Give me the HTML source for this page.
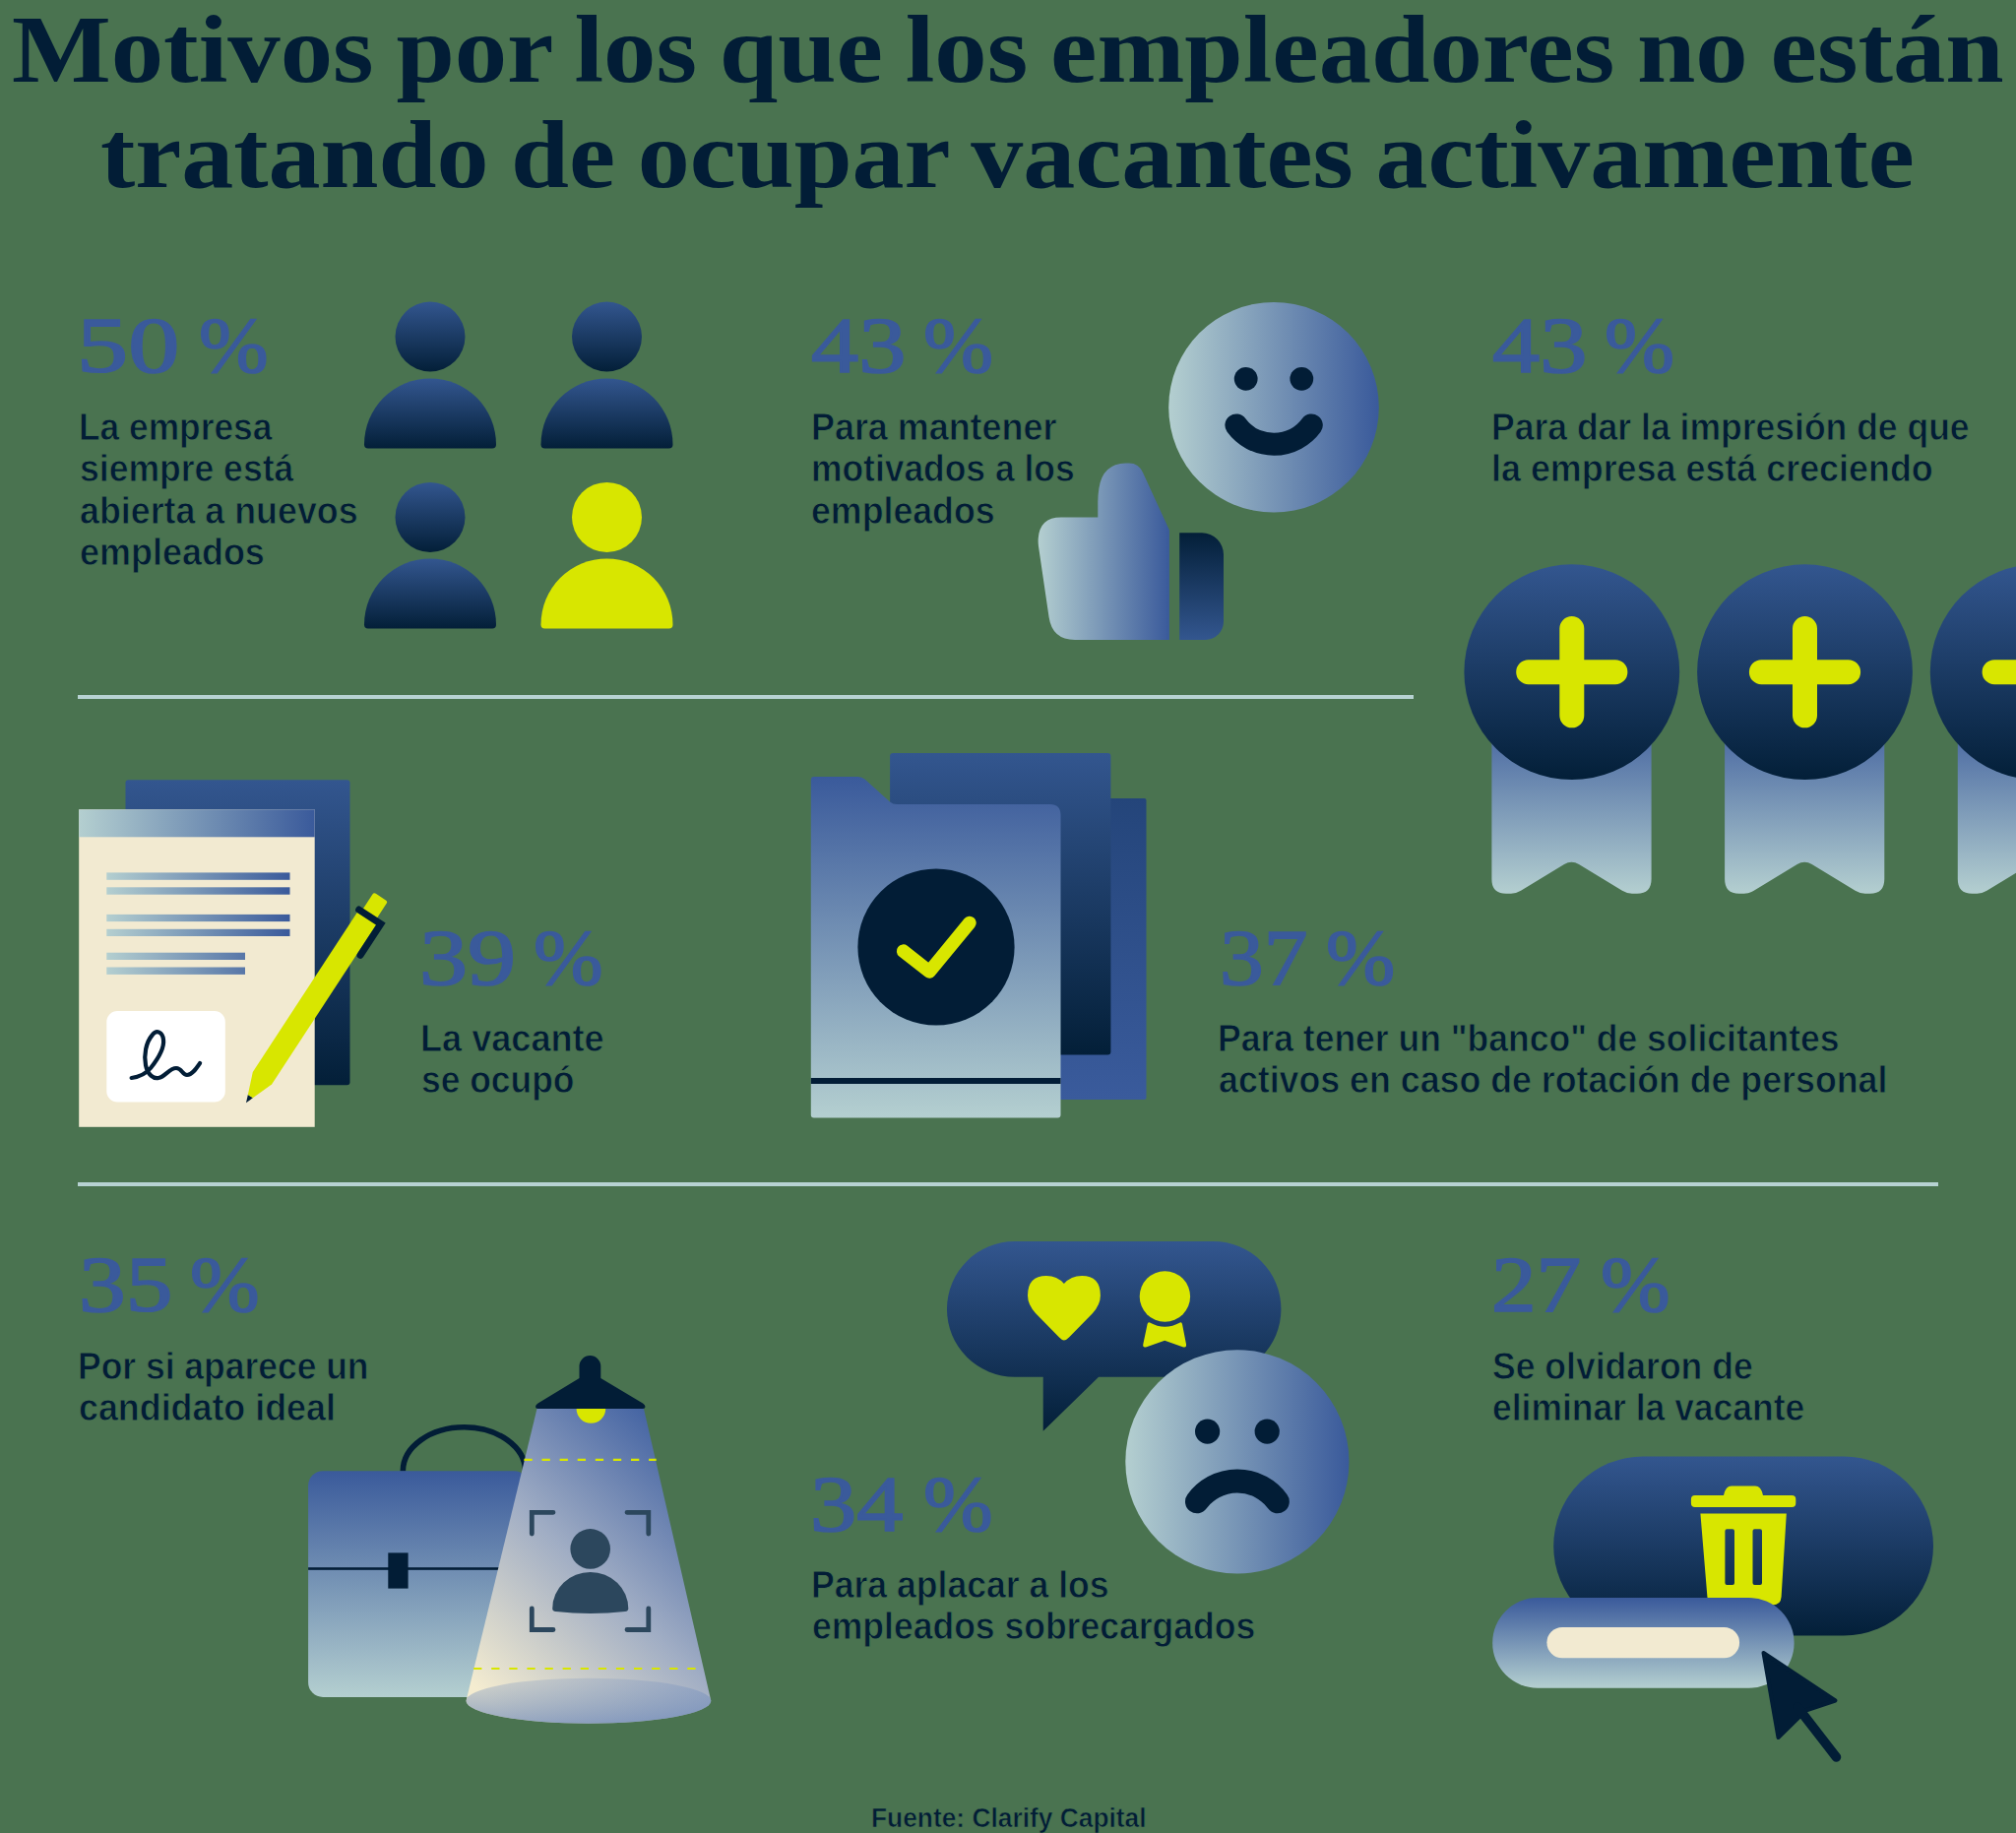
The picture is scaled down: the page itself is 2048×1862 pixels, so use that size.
<!DOCTYPE html>
<html lang="es">
<head>
<meta charset="utf-8">
<title>Motivos por los que los empleadores no están tratando de ocupar vacantes activamente</title>
<style>
html,body{margin:0;padding:0;}
body{width:2048px;height:1862px;background:#4a7350;overflow:hidden;position:relative;font-family:"Liberation Sans",sans-serif;}
#art{position:absolute;left:0;top:0;width:2048px;height:1862px;}
.t{position:absolute;white-space:nowrap;margin:0;padding:0;transform-origin:0 0;}
.title{font-family:"Liberation Serif",serif;font-weight:bold;color:#021d36;word-spacing:-3.5px;}
.num{font-family:"Liberation Serif",serif;font-weight:normal;color:#3a5a9b;-webkit-text-stroke:1.7px #3a5a9b;}
.body{font-family:"Liberation Sans",sans-serif;font-weight:bold;color:#021d36;-webkit-text-stroke:0.85px #4a7350;}
.src{font-family:"Liberation Sans",sans-serif;font-weight:bold;color:#021d36;-webkit-text-stroke:0.65px #4a7350;}
.rule{position:absolute;height:4px;background:#b7d2d2;}
</style>
</head>
<body>
<svg id="art" width="2048" height="1862" viewBox="0 0 2048 1862">
<defs>
  <linearGradient id="gNavy" x1="0" y1="0" x2="0" y2="1">
    <stop offset="0" stop-color="#33568f"/><stop offset="1" stop-color="#031f38"/>
  </linearGradient>
  <linearGradient id="gNavyR" x1="0" y1="0" x2="0" y2="1">
    <stop offset="0" stop-color="#031f38"/><stop offset="1" stop-color="#33568f"/>
  </linearGradient>
  <linearGradient id="gLightV" x1="0" y1="0" x2="0" y2="1">
    <stop offset="0" stop-color="#3a5a9b"/><stop offset="1" stop-color="#b4cfd0"/>
  </linearGradient>
  <linearGradient id="gLightH" x1="0" y1="0" x2="1" y2="0">
    <stop offset="0" stop-color="#b4cfd0"/><stop offset="1" stop-color="#3a5a9b"/>
  </linearGradient>
  <linearGradient id="gBack" x1="0" y1="0" x2="0" y2="1">
    <stop offset="0" stop-color="#24457a"/><stop offset="1" stop-color="#3a5b9c"/>
  </linearGradient>
  <linearGradient id="gCone" gradientUnits="userSpaceOnUse" x1="487" y1="1718" x2="712" y2="1478">
    <stop offset="0" stop-color="#f4ecd0"/><stop offset="0.5" stop-color="#a0adc4"/><stop offset="1" stop-color="#4262a2"/>
  </linearGradient>
  <linearGradient id="gPool" x1="0" y1="0" x2="0" y2="1">
    <stop offset="0" stop-color="#6f8cbd" stop-opacity="0.22"/><stop offset="0.5" stop-color="#6483b8" stop-opacity="0.42"/><stop offset="1" stop-color="#5a7ab6" stop-opacity="0.62"/>
  </linearGradient>
  <linearGradient id="gLine" gradientUnits="userSpaceOnUse" x1="108.3" y1="0" x2="294.5" y2="0">
    <stop offset="0" stop-color="#b4cfd0"/><stop offset="1" stop-color="#3a5a9b"/>
  </linearGradient>
</defs>
<!-- ===== 50 % : people ===== -->
<g id="people">
  <circle cx="437" cy="342" r="35.5" fill="url(#gNavy)"/>
  <path d="M370 451.5 A67 67 0 0 1 504 451.5 a4 4 0 0 1 -4 4 H374 a4 4 0 0 1 -4 -4 Z" fill="url(#gNavy)"/>
  <circle cx="616.5" cy="342" r="35.5" fill="url(#gNavy)"/>
  <path d="M549.5 451.5 A67 67 0 0 1 683.5 451.5 a4 4 0 0 1 -4 4 H553.5 a4 4 0 0 1 -4 -4 Z" fill="url(#gNavy)"/>
  <circle cx="437" cy="525.4" r="35.5" fill="url(#gNavy)"/>
  <path d="M370 634.5 A67 67 0 0 1 504 634.5 a4 4 0 0 1 -4 4 H374 a4 4 0 0 1 -4 -4 Z" fill="url(#gNavy)"/>
  <circle cx="616.5" cy="525.4" r="35.5" fill="#d8e600"/>
  <path d="M549.5 634.5 A67 67 0 0 1 683.5 634.5 a4 4 0 0 1 -4 4 H553.5 a4 4 0 0 1 -4 -4 Z" fill="#d8e600"/>
</g>

<!-- ===== 43 % : smiley + thumb ===== -->
<g id="smiley">
  <circle cx="1294" cy="413.8" r="106.8" fill="url(#gLightH)"/>
  <circle cx="1265.7" cy="384.8" r="11.9" fill="#021d36"/>
  <circle cx="1322.3" cy="384.8" r="11.9" fill="#021d36"/>
  <path d="M1255.9 431.9 A47.4 47.4 0 0 0 1332.3 431.9" fill="none" stroke="#021d36" stroke-width="23" stroke-linecap="round"/>
</g>
<g id="thumb">
  <path d="M1115.3 525.5 H1078 Q1056 525.5 1054.7 547.3 Q1054.5 551 1055 555 L1065.6 627 Q1069 649.9 1092 649.9 H1187.9 V538.6 L1161 480 Q1157 470.4 1147 470.4 H1143.7 Q1120 471 1116.4 496 Q1115.3 503 1115.3 510 Z" fill="url(#gLightH)"/>
  <path d="M1198.2 541.3 H1221 A22 22 0 0 1 1243 563.3 V631.4 A18.5 18.5 0 0 1 1224.5 649.9 H1198.2 Z" fill="url(#gNavyR)"/>
</g>

<!-- ===== 43 % : badges ===== -->
<g id="badges">
  <g id="badge1">
    <path d="M1515.4 720 H1677.6 V893 Q1677.6 907.8 1663 907.8 H1658 Q1653 907.8 1648 904.8 L1604 878 Q1596.5 873.5 1589 878 L1545 904.8 Q1540 907.8 1535 907.8 H1530 Q1515.4 907.8 1515.4 893 Z" fill="url(#gLightV)"/>
    <circle cx="1596.8" cy="682.7" r="109.4" fill="url(#gNavy)"/>
    <path d="M1552.7 682.7 H1640.9 M1596.8 638.6 V726.8" stroke="#d8e600" stroke-width="25" stroke-linecap="round" fill="none"/>
  </g>
  <g id="badge2" transform="translate(236.7 0)">
    <path d="M1515.4 720 H1677.6 V893 Q1677.6 907.8 1663 907.8 H1658 Q1653 907.8 1648 904.8 L1604 878 Q1596.5 873.5 1589 878 L1545 904.8 Q1540 907.8 1535 907.8 H1530 Q1515.4 907.8 1515.4 893 Z" fill="url(#gLightV)"/>
    <circle cx="1596.8" cy="682.7" r="109.4" fill="url(#gNavy)"/>
    <path d="M1552.7 682.7 H1640.9 M1596.8 638.6 V726.8" stroke="#d8e600" stroke-width="25" stroke-linecap="round" fill="none"/>
  </g>
  <g id="badge3" transform="translate(473.4 0)">
    <path d="M1515.4 720 H1677.6 V893 Q1677.6 907.8 1663 907.8 H1658 Q1653 907.8 1648 904.8 L1604 878 Q1596.5 873.5 1589 878 L1545 904.8 Q1540 907.8 1535 907.8 H1530 Q1515.4 907.8 1515.4 893 Z" fill="url(#gLightV)"/>
    <circle cx="1596.8" cy="682.7" r="109.4" fill="url(#gNavy)"/>
    <path d="M1552.7 682.7 H1640.9 M1596.8 638.6 V726.8" stroke="#d8e600" stroke-width="25" stroke-linecap="round" fill="none"/>
  </g>
</g>
<!-- ===== 39 % : signed document ===== -->
<g id="document">
  <rect x="127.5" y="792.3" width="228" height="310" rx="3" fill="url(#gNavy)"/>
  <rect x="80.2" y="822.3" width="239.5" height="322.5" fill="#f2ead1"/>
  <rect x="80.2" y="822.3" width="239.5" height="28" fill="url(#gLightH)"/>
  <g fill="url(#gLine)">
    <rect x="108.3" y="886.4" width="186.2" height="7.4"/>
    <rect x="108.3" y="901.3" width="186.2" height="7.4"/>
    <rect x="108.3" y="928.9" width="186.2" height="7.2"/>
    <rect x="108.3" y="943.8" width="186.2" height="7.2"/>
  </g>
  <g fill="url(#gLine)">
    <rect x="108.3" y="967.7" width="140.7" height="7.3"/>
    <rect x="108.3" y="982.5" width="140.7" height="7.4"/>
  </g>
  <rect x="108.3" y="1027.1" width="120.5" height="92.4" rx="11" fill="#ffffff"/>
  <path d="M133.6 1095 C141 1094 148 1091 153 1085 C161 1075 167 1064 166 1056 C165 1048 159 1046 155 1051 C148 1059 146 1072 148 1082 C150 1092 156 1096 161 1095 C168 1094 172 1085 179 1085 C185 1085 185 1092 190 1092 C195 1092 199 1086 203.1 1080" fill="none" stroke="#021d36" stroke-width="4.2" stroke-linecap="round" stroke-linejoin="round"/>
  <g id="pen" transform="translate(250 1120.3) rotate(33.2)">
    <path d="M0 0 L-3 -8 H3 Z" fill="#021d36"/>
    <path d="M-3 -8 L-11.5 -30 V-225 H11.5 V-30 L3 -8 Z" fill="#d8e600"/>
    <rect x="-8.5" y="-250" width="17" height="24" rx="2.5" fill="#d8e600"/>
    <path d="M-11.5 -227 H15 V-189" fill="none" stroke="#021d36" stroke-width="7" stroke-linecap="round" stroke-linejoin="miter"/>
  </g>
</g>

<!-- ===== 37 % : folder with check ===== -->
<g id="folder">
  <rect x="1060" y="811" width="104.5" height="306" rx="2" fill="url(#gBack)"/>
  <rect x="904.1" y="765" width="224.3" height="306.6" rx="3" fill="url(#gNavy)"/>
  <path d="M826.8 789 H871.5 Q875.5 789 878.5 791.5 L904 814.5 Q907 817 911 817 H1066.5 Q1077.5 817 1077.5 828 V1132.4 Q1077.5 1135.4 1074.5 1135.4 H826.8 Q823.8 1135.4 823.8 1132.4 V792 Q823.8 789 826.8 789 Z" fill="url(#gLightV)"/>
  <rect x="823.8" y="1095" width="253.7" height="6" fill="#021d36"/>
  <circle cx="951" cy="962" r="79.6" fill="#021d36"/>
  <path d="M917.6 966.1 L944.2 987 L985 937.4" fill="none" stroke="#d8e600" stroke-width="13.5" stroke-linecap="round" stroke-linejoin="round"/>
</g>
<!-- ===== 35 % : briefcase + spotlight ===== -->
<g id="briefcase">
  <path d="M409.3 1494.5 A62.2 44.7 0 0 1 533.7 1494.5" fill="none" stroke="#021d36" stroke-width="5.6"/>
  <rect x="313.1" y="1494.2" width="224" height="229.8" rx="15" fill="url(#gLightV)"/>
  <rect x="313.1" y="1592.2" width="224" height="2.6" fill="#021d36"/>
  <rect x="394.3" y="1577.4" width="20.3" height="36.2" fill="#021d36"/>
</g>
<g id="spotlight">
  <path d="M545.5 1431 H654 L722.3 1727.7 A124.4 23 0 0 1 473.5 1727.7 Z" fill="url(#gCone)"/>
  <ellipse cx="597.9" cy="1727.7" rx="124.4" ry="23" fill="url(#gPool)"/>
  <path d="M532.4 1482.9 H666.7" stroke="#d8e600" stroke-width="2.2" stroke-dasharray="8.3 9.8" fill="none"/>
  <path d="M481.1 1695 H707" stroke="#d8e600" stroke-width="2.2" stroke-dasharray="8.3 9.8" fill="none"/>
  <path d="M585.6 1431 A14.8 14.8 0 0 0 615.2 1431 Z" fill="#d8e600"/>
  <path d="M588.5 1388 A10.9 10.9 0 0 1 610.3 1388 V1400 L653 1425.5 Q655.5 1427 655.5 1429 Q655.5 1431 653 1431 H546.5 Q544 1431 544 1429 Q544 1427 546.5 1425.5 L588.5 1400 Z" fill="#021d36"/>
  <g fill="none" stroke="#2c475d" stroke-width="4.8" stroke-linecap="round" stroke-linejoin="miter">
    <path d="M540.3 1558 V1536.3 H562"/>
    <path d="M637 1536.3 H658.8 V1558"/>
    <path d="M540.3 1634 V1655.5 H562"/>
    <path d="M637 1655.5 H658.8 V1634"/>
  </g>
  <circle cx="599.7" cy="1573.4" r="20.3" fill="#2c475d"/>
  <path d="M561.2 1634 A38.5 37 0 0 1 638.3 1634 Q638.3 1636.5 635 1637 Q600 1641 564.5 1637 Q561.2 1636.5 561.2 1634 Z" fill="#2c475d"/>
</g>

<!-- ===== 34 % : speech bubble + sad face ===== -->
<g id="bubble">
  <path d="M1030.8 1261 H1232.6 A68.8 68.8 0 0 1 1232.6 1398.7 H1116.1 L1059.7 1453.7 V1398.7 H1030.8 A68.8 68.8 0 0 1 1030.8 1261 Z" fill="url(#gNavy)"/>
  <path d="M1080.9 1361.6 Q1079 1361.6 1076 1358.5 L1052 1334 Q1044 1325 1044 1316 Q1044 1296 1063 1296 Q1074 1296 1080.9 1304 Q1088 1296 1099 1296 Q1117.9 1296 1117.9 1316 Q1117.9 1325 1110 1334 L1086 1358.5 Q1083 1361.6 1080.9 1361.6 Z" fill="#d8e600"/>
  <circle cx="1183.4" cy="1317" r="25.7" fill="#d8e600"/>
  <path d="M1168 1343.5 Q1183.4 1352 1198.8 1343.5 Q1200.5 1342.8 1201 1345 L1205 1365.5 Q1205.6 1369.6 1201.5 1368.2 L1183.2 1361.8 L1164.8 1368.2 Q1160.6 1369.6 1161.3 1365.5 L1165.6 1345 Q1166.2 1342.8 1168 1343.5 Z" fill="#d8e600"/>
</g>
<g id="sadface">
  <circle cx="1256.9" cy="1484.8" r="113.6" fill="url(#gLightH)"/>
  <circle cx="1226.6" cy="1454.1" r="12.6" fill="#021d36"/>
  <circle cx="1287.2" cy="1454.1" r="12.6" fill="#021d36"/>
  <path d="M1216 1525.3 A50.6 50.6 0 0 1 1297.8 1525.3" fill="none" stroke="#021d36" stroke-width="24" stroke-linecap="round"/>
</g>

<!-- ===== 27 % : delete button + cursor ===== -->
<g id="delete">
  <rect x="1578.2" y="1479.4" width="385.8" height="182" rx="91" fill="url(#gNavy)"/>
  <path d="M1759 1509.6 H1783 Q1789 1509.6 1791 1519 H1820.3 Q1824.3 1519 1824.3 1523 V1527 Q1824.3 1531 1820.3 1531 H1721.9 Q1717.9 1531 1717.9 1527 V1523 Q1717.9 1519 1721.9 1519 H1751 Q1753 1509.6 1759 1509.6 Z" fill="#d8e600"/>
  <path d="M1727.4 1537.4 H1814.8 L1809.6 1622 Q1809 1630.4 1801 1630.4 H1742.5 Q1735 1630.4 1734.4 1622 Z M1754.4 1553.3 Q1752.4 1553.3 1752.4 1555.3 V1608 Q1752.4 1610 1754.4 1610 H1760 Q1762 1610 1762 1608 V1555.3 Q1762 1553.3 1760 1553.3 Z M1782.5 1553.3 Q1780.5 1553.3 1780.5 1555.3 V1608 Q1780.5 1610 1782.5 1610 H1788 Q1790 1610 1790 1608 V1555.3 Q1790 1553.3 1788 1553.3 Z" fill="#d8e600" fill-rule="evenodd"/>
  <rect x="1516.2" y="1623.1" width="306.4" height="91.6" rx="45.8" fill="url(#gLightV)"/>
  <rect x="1571.4" y="1652.9" width="195.7" height="31.4" rx="15.7" fill="#f2ead1"/>
  <path d="M1791.5 1679 L1864.5 1727.5 L1834.5 1737.5 L1806.5 1765 Z" fill="#021d36" stroke="#021d36" stroke-width="4" stroke-linejoin="round"/>
  <path d="M1826 1734 L1865.5 1785" fill="none" stroke="#021d36" stroke-width="9.5" stroke-linecap="round"/>
</g>
</svg>

<div class="rule" style="left:78.8px;top:706px;width:1357.3px"></div>
<div class="rule" style="left:78.8px;top:1201px;width:1890.3px"></div>
<div class="t title" style="left:12.1px;top:2.1px;font-size:97.0px;line-height:97.0px;transform:scaleX(1.1003)">Motivos por los que los empleadores no están</div>
<div class="t title" style="left:102.0px;top:109.3px;font-size:97.0px;line-height:97.0px;transform:scaleX(1.0924)">tratando de ocupar vacantes activamente</div>
<div class="t num" style="left:77.8px;top:310.9px;font-size:80.0px;line-height:80.0px;transform:scaleX(1.3041)">50</div>
<div class="t num" style="left:202.0px;top:310.9px;font-size:80.0px;line-height:80.0px;transform:scaleX(1.0587)">%</div>
<div class="t num" style="left:823.5px;top:311.2px;font-size:80.0px;line-height:80.0px;transform:scaleX(1.2052)">43</div>
<div class="t num" style="left:937.8px;top:311.2px;font-size:80.0px;line-height:80.0px;transform:scaleX(1.0651)">%</div>
<div class="t num" style="left:1515.7px;top:311.2px;font-size:80.0px;line-height:80.0px;transform:scaleX(1.2052)">43</div>
<div class="t num" style="left:1630.0px;top:311.2px;font-size:80.0px;line-height:80.0px;transform:scaleX(1.0651)">%</div>
<div class="t num" style="left:425.6px;top:932.6px;font-size:80.0px;line-height:80.0px;transform:scaleX(1.2253)">39</div>
<div class="t num" style="left:541.6px;top:932.6px;font-size:80.0px;line-height:80.0px;transform:scaleX(1.0587)">%</div>
<div class="t num" style="left:1238.5px;top:932.8px;font-size:80.0px;line-height:80.0px;transform:scaleX(1.1158)">37</div>
<div class="t num" style="left:1346.6px;top:932.8px;font-size:80.0px;line-height:80.0px;transform:scaleX(1.0524)">%</div>
<div class="t num" style="left:79.6px;top:1265.2px;font-size:80.0px;line-height:80.0px;transform:scaleX(1.1920)">35</div>
<div class="t num" style="left:193.0px;top:1265.2px;font-size:80.0px;line-height:80.0px;transform:scaleX(1.0587)">%</div>
<div class="t num" style="left:823.0px;top:1488.3px;font-size:80.0px;line-height:80.0px;transform:scaleX(1.1805)">34</div>
<div class="t num" style="left:937.8px;top:1488.3px;font-size:80.0px;line-height:80.0px;transform:scaleX(1.0587)">%</div>
<div class="t num" style="left:1515.3px;top:1265.3px;font-size:80.0px;line-height:80.0px;transform:scaleX(1.1395)">27</div>
<div class="t num" style="left:1625.7px;top:1265.3px;font-size:80.0px;line-height:80.0px;transform:scaleX(1.0587)">%</div>
<div class="t body" style="left:79.9px;top:414.6px;font-size:38.5px;line-height:38.5px;transform:scaleX(0.9175)">La empresa</div>
<div class="t body" style="left:80.9px;top:457.2px;font-size:38.5px;line-height:38.5px;transform:scaleX(0.9227)">siempre está</div>
<div class="t body" style="left:80.8px;top:499.8px;font-size:38.5px;line-height:38.5px;transform:scaleX(0.9300)">abierta a nuevos</div>
<div class="t body" style="left:80.8px;top:542.4px;font-size:38.5px;line-height:38.5px;transform:scaleX(0.9340)">empleados</div>
<div class="t body" style="left:823.5px;top:414.6px;font-size:38.5px;line-height:38.5px;transform:scaleX(0.9323)">Para mantener</div>
<div class="t body" style="left:823.5px;top:457.2px;font-size:38.5px;line-height:38.5px;transform:scaleX(0.9196)">motivados a los</div>
<div class="t body" style="left:824.4px;top:499.8px;font-size:38.5px;line-height:38.5px;transform:scaleX(0.9279)">empleados</div>
<div class="t body" style="left:1515.0px;top:414.6px;font-size:38.5px;line-height:38.5px;transform:scaleX(0.9226)">Para dar la impresión de que</div>
<div class="t body" style="left:1515.0px;top:457.2px;font-size:38.5px;line-height:38.5px;transform:scaleX(0.9319)">la empresa está creciendo</div>
<div class="t body" style="left:426.5px;top:1035.7px;font-size:38.5px;line-height:38.5px;transform:scaleX(0.9381)">La vacante</div>
<div class="t body" style="left:427.5px;top:1078.3px;font-size:38.5px;line-height:38.5px;transform:scaleX(0.9200)">se ocupó</div>
<div class="t body" style="left:1237.2px;top:1036.1px;font-size:38.5px;line-height:38.5px;transform:scaleX(0.9221)">Para tener un &quot;banco&quot; de solicitantes</div>
<div class="t body" style="left:1238.1px;top:1078.3px;font-size:38.5px;line-height:38.5px;transform:scaleX(0.9284)">activos en caso de rotación de personal</div>
<div class="t body" style="left:79.3px;top:1368.5px;font-size:38.5px;line-height:38.5px;transform:scaleX(0.9206)">Por si aparece un</div>
<div class="t body" style="left:80.2px;top:1411.0px;font-size:38.5px;line-height:38.5px;transform:scaleX(0.9309)">candidato ideal</div>
<div class="t body" style="left:823.7px;top:1590.6px;font-size:38.5px;line-height:38.5px;transform:scaleX(0.9239)">Para aplacar a los</div>
<div class="t body" style="left:824.7px;top:1632.6px;font-size:38.5px;line-height:38.5px;transform:scaleX(0.9227)">empleados sobrecargados</div>
<div class="t body" style="left:1516.2px;top:1368.6px;font-size:38.5px;line-height:38.5px;transform:scaleX(0.9233)">Se olvidaron de</div>
<div class="t body" style="left:1516.2px;top:1411.1px;font-size:38.5px;line-height:38.5px;transform:scaleX(0.9205)">eliminar la vacante</div>
<div class="t src" style="left:884.8px;top:1831.5px;font-size:28.5px;line-height:28.5px;transform:scaleX(0.9242)">Fuente: Clarify Capital</div>
</body>
</html>
